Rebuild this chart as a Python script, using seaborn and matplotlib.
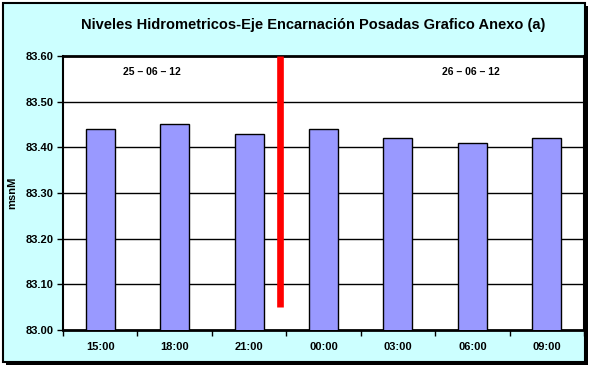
import pandas as pd
import matplotlib
matplotlib.use("Agg")
import matplotlib.pyplot as plt
import seaborn as sns
from matplotlib.patches import Rectangle

# data
horas = ["15:00", "18:00", "21:00", "00:00", "03:00", "06:00", "09:00"]
niveles = [83.44, 83.45, 83.43, 83.44, 83.42, 83.41, 83.42]
fechas = ["25 \u2013 06 \u2013 12", "26 \u2013 06 \u2013 12"]
fecha_pos = [0.70, 4.98]
corte_x = 2.42
corte_y = [83.05, 83.60]
y_ticks = [83.00, 83.10, 83.20, 83.30, 83.40, 83.50, 83.60]

titulo = "Niveles Hidrometricos-Eje Encarnación Posadas Grafico Anexo (a)"

sns.set_style("white")
plt.rcParams['font.family'] = ['Liberation Sans', 'DejaVu Sans']
plt.rcParams['text.color'] = 'black'
plt.rcParams['xtick.color'] = 'black'
plt.rcParams['ytick.color'] = 'black'
plt.rcParams['axes.labelcolor'] = 'black'

W, H = 595, 369
fig = plt.figure(figsize=(W / 100, H / 100), dpi=100)
fig.patch.set_facecolor("white")

# chart frame with shadow
fig.patches.append(Rectangle((6 / W, 1 - 365 / H), 582 / W, 359 / H,
                             transform=fig.transFigure, facecolor="black",
                             edgecolor="none", zorder=-2))
fig.patches.append(Rectangle((3 / W, 1 - 362 / H), 582 / W, 359 / H,
                             transform=fig.transFigure, facecolor="#CCFFFF",
                             edgecolor="black", linewidth=1.5, zorder=-1))

ax = fig.add_axes([63 / W, 1 - 330 / H, (584 - 63) / W, (330 - 56) / H])
ax.set_facecolor("white")

df = pd.DataFrame({"hora": horas, "nivel": niveles})
sns.barplot(data=df, x="hora", y="nivel", color="#9999FF", saturation=1,
            width=0.39, edgecolor="black", linewidth=1, ax=ax, zorder=3)

ax.set_ylim(y_ticks[0], y_ticks[-1])
ax.set_xlim(-0.5, len(horas) - 0.5)
ax.set_yticks(y_ticks)
ax.set_yticklabels([f"{v:.2f}" for v in y_ticks], fontsize=8, fontweight="bold")
ax.set_xticks(range(len(horas)))
ax.set_xticklabels(horas, fontsize=8, fontweight="bold")
ax.tick_params(axis="x", which="major", length=0, pad=9)
ax.set_xticks([i + 0.5 for i in range(-1, len(horas))], minor=True)
ax.tick_params(axis="x", which="minor", length=4, width=1, direction="out", color="black", bottom=True)
ax.tick_params(axis="y", length=4, width=1, direction="out", color="black", pad=3, left=True)

for v in y_ticks[1:-1]:
    ax.axhline(v, color="black", linewidth=1, zorder=1)

ax.vlines(corte_x, corte_y[0], corte_y[1], color="red", linewidth=4.8, zorder=4)

for txt, xp in zip(fechas, fecha_pos):
    ax.text(xp, 83.565, txt, ha="center", va="center", fontsize=7.5, fontweight="bold")

for side in ["left", "right", "top", "bottom"]:
    ax.spines[side].set_visible(True)
    ax.spines[side].set_color("black")
    ax.spines[side].set_linewidth(1.5)
ax.spines["bottom"].set_linewidth(2)
ax.spines["top"].set_linewidth(2)

ax.set_xlabel("")
ax.set_ylabel("msnM", fontsize=8, fontweight="bold")
ax.yaxis.set_label_coords(-46 / (584 - 63), 0.5)

fig.text(313 / W, 1 - 25 / H, titulo, ha="center", va="center",
         fontsize=10.5, fontweight="bold")

fig.savefig("out.png", dpi=100)
